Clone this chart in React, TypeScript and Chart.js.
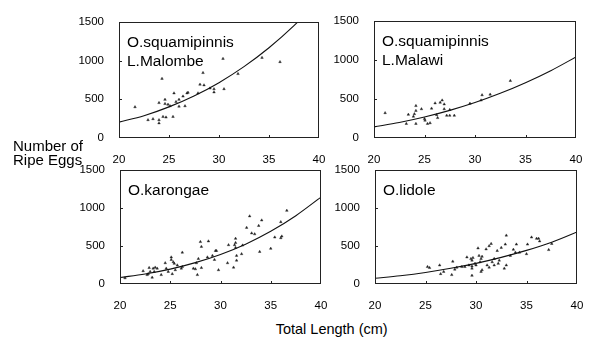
import React, { useEffect, useRef } from 'react';
import { Chart, registerables } from 'chart.js';
Chart.register(...registerables);

const FONT = '"Liberation Sans", Arial, Helvetica, sans-serif';

// tick labels
const xTickValues = [20, 25, 30, 35, 40];
const yTickValues = [0, 500, 1000, 1500];

// O.squamipinnis, L.Malombe
const malombeLength = [21.6, 24.3, 22.9, 23.4, 24.0, 24.0, 24.0, 24.4, 24.7, 24.6, 24.6, 24.9, 25.1, 25.4, 25.5, 25.7, 26.0, 26.0, 26.4, 26.6, 26.8, 26.9, 27.9, 28.1, 28.4, 28.5, 29.1, 29.5, 29.5, 30.4, 30.5, 31.9, 34.3, 36.1];
const malombeEggs = [400, 767, 233, 246, 233, 192, 454, 275, 267, 496, 442, 433, 413, 275, 579, 467, 496, 408, 538, 413, 579, 588, 579, 692, 842, 683, 642, 633, 592, 1025, 633, 829, 1038, 983];
const malombeCurveLength = [20, 22.5, 25, 27.5, 30, 32.5, 35, 37.5, 40];
const malombeCurveEggs = [205, 288, 402, 543, 715, 922, 1166, 1452, 1781];

// O.squamipinnis, L.Malawi
const malawiLength = [21.1, 23.2, 23.4, 23.9, 24.0, 24.15, 24.15, 24.15, 24.7, 25.0, 25.05, 25.3, 25.55, 25.7, 26.05, 26.2, 26.3, 26.55, 26.75, 26.95, 26.95, 27.2, 27.5, 27.95, 27.5, 29.5, 30.6, 30.7, 31.5, 33.5];
const malawiEggs = [321, 183, 300, 275, 308, 412, 350, 183, 371, 246, 225, 183, 192, 379, 446, 296, 258, 454, 483, 433, 371, 288, 288, 288, 362, 442, 483, 550, 558, 733];
const malawiCurveLength = [20, 22.5, 25, 27.5, 30, 32.5, 35, 37.5, 40];
const malawiCurveEggs = [142, 199, 269, 354, 454, 572, 708, 862, 1038];

// O.karongae
const karongaeLength = [20.5, 22.3, 22.7, 22.8, 22.9, 23.0, 23.2, 23.3, 23.5, 23.7, 23.4, 24.1, 24.5, 24.6, 24.8, 25.1, 25.1, 25.3, 25.4, 25.2, 25.5, 25.7, 26.2, 26.2, 26.1, 27.3, 27.5, 27.6, 27.7, 27.8, 28.0, 28.1, 28.1, 28.8, 28.7, 29.2, 29.5, 29.6, 29.4, 29.8, 30.7, 30.8, 31.3, 31.4, 31.5, 31.5, 31.5, 31.6, 31.6, 32.1, 32.2, 32.6, 32.9, 33.1, 33.4, 33.8, 33.9, 34.1, 35.0, 35.4, 36.0, 36.1, 36.0, 36.6];
const karongaeEggs = [78, 171, 120, 133, 213, 162, 86, 205, 218, 205, 162, 120, 276, 205, 162, 352, 319, 289, 268, 133, 184, 247, 415, 226, 205, 205, 196, 276, 120, 332, 554, 491, 213, 563, 352, 373, 437, 437, 319, 184, 276, 513, 218, 513, 542, 597, 478, 373, 310, 395, 509, 741, 892, 668, 656, 766, 424, 838, 466, 614, 605, 627, 816, 965];
const karongaeCurveLength = [20, 22.5, 25, 27.5, 30, 32.5, 35, 37.5, 40];
const karongaeCurveEggs = [85, 132, 196, 281, 389, 524, 693, 898, 1142];

// O.lidole
const lidoleLength = [25.2, 25.4, 26.4, 26.5, 26.8, 27.6, 27.7, 27.9, 28.1, 28.6, 28.9, 29.1, 29.3, 29.5, 29.6, 29.7, 29.6, 29.6, 29.6, 29.9, 30.0, 30.2, 30.3, 30.4, 30.5, 30.6, 30.5, 30.6, 31.0, 31.3, 31.3, 31.1, 31.5, 31.6, 31.8, 31.8, 32.1, 32.2, 32.3, 32.5, 32.8, 32.9, 33.0, 33.0, 33.4, 33.7, 33.9, 34.0, 34.3, 35.0, 35.1, 35.5, 36.0, 36.2, 36.3, 37.2, 37.5];
const lidoleEggs = [226, 213, 247, 133, 162, 120, 297, 192, 218, 226, 226, 352, 247, 332, 310, 344, 234, 205, 111, 268, 247, 471, 373, 289, 332, 361, 162, 184, 458, 500, 218, 247, 529, 289, 332, 247, 437, 268, 310, 478, 205, 521, 639, 247, 373, 453, 415, 521, 415, 395, 521, 614, 597, 597, 563, 449, 529];
const lidoleCurveLength = [20, 22.5, 25, 27.5, 30, 32.5, 35, 37.5, 40];
const lidoleCurveEggs = [75, 109, 152, 206, 271, 350, 442, 550, 685];

const YW = 40; // y-axis box width
const PT = 10; // top padding
const PR = 14; // right padding
const XH = 26; // x-axis box height

type PanelProps = {
  L: number; T: number; R: number; B: number;
  title: string[];
  xs: number[]; ys: number[];
  cx: number[]; cy: number[];
};

function Panel({ L, T, R, B, title, xs, ys, cx, cy }: PanelProps) {
  const ref = useRef<HTMLCanvasElement | null>(null);
  const width = YW + (R - L) + PR;
  const height = PT + (B - T) + XH;

  useEffect(() => {
    if (!ref.current) return;
    const framePlugin = {
      id: 'frame',
      afterDraw(chart: any) {
        const { ctx, chartArea } = chart;
        const { left, top, right, bottom } = chartArea;
        ctx.save();
        ctx.strokeStyle = '#222';
        ctx.lineWidth = 1;
        ctx.strokeRect(Math.round(left) + 0.5, Math.round(top) + 0.5, Math.round(right - left) - 1, Math.round(bottom - top) - 1);
        const xsc = chart.scales.x;
        const ysc = chart.scales.y;
        ctx.beginPath();
        xTickValues.slice(1, -1).forEach((v) => {
          const px = Math.round(xsc.getPixelForValue(v)) + 0.5;
          ctx.moveTo(px, bottom);
          ctx.lineTo(px, bottom - 3);
        });
        yTickValues.slice(1, -1).forEach((v) => {
          const py = Math.round(ysc.getPixelForValue(v)) + 0.5;
          ctx.moveTo(left, py);
          ctx.lineTo(left + 3, py);
        });
        ctx.stroke();
        ctx.fillStyle = '#000';
        ctx.font = `15.5px ${FONT}`;
        ctx.textBaseline = 'alphabetic';
        ctx.textAlign = 'left';
        title.forEach((line, i) => {
          ctx.fillText(line, left + 8, top + 25 + i * 19);
        });
        ctx.restore();
      },
    };

    const chart = new Chart(ref.current, {
      type: 'scatter',
      data: {
        datasets: [
          {
            type: 'line',
            data: cx.map((x, i) => ({ x, y: cy[i] })),
            borderColor: '#111',
            borderWidth: 1.1,
            pointRadius: 0,
            fill: false,
            cubicInterpolationMode: 'monotone',
          } as any,
          {
            type: 'scatter',
            data: xs.map((x, i) => ({ x, y: ys[i] })),
            pointStyle: 'triangle',
            pointRadius: 1.5,
            backgroundColor: '#222',
            borderColor: '#222',
            borderWidth: 0.4,
          } as any,
        ],
      },
      options: {
        responsive: false,
        animation: false,
        devicePixelRatio: 1,
        layout: { padding: { top: PT, right: PR, left: 0, bottom: 0 } },
        plugins: { legend: { display: false }, tooltip: { enabled: false } },
        scales: {
          x: {
            type: 'linear',
            min: 20,
            max: 40,
            afterBuildTicks: (s: any) => { s.ticks = xTickValues.map((v) => ({ value: v })); },
            afterFit: (s: any) => { s.height = XH; },
            grid: { display: false },
            border: { display: false },
            ticks: { padding: 7, color: '#000', maxRotation: 0, autoSkip: false, font: { family: FONT, size: 11.5 }, callback: (v: any) => String(v) },
          },
          y: {
            type: 'linear',
            min: 0,
            max: 1500,
            afterBuildTicks: (s: any) => { s.ticks = yTickValues.map((v) => ({ value: v })); },
            afterFit: (s: any) => { s.width = YW; },
            grid: { display: false },
            border: { display: false },
            ticks: { padding: 7, color: '#000', autoSkip: false, font: { family: FONT, size: 11.5 }, callback: (v: any) => String(v) },
          },
        },
      } as any,
      plugins: [framePlugin],
    });
    return () => chart.destroy();
  }, []);

  return (
    <canvas
      ref={ref}
      width={width}
      height={height}
      style={{ position: 'absolute', left: L - YW, top: T - PT, width, height }}
    />
  );
}

export default function App() {
  return (
    <div style={{ position: 'fixed', left: 0, top: 0, width: 600, height: 347, background: '#fff', overflow: 'hidden', fontFamily: FONT, color: '#000' }}>
      <Panel L={119} T={18} R={319} B={138} title={['O.squamipinnis', 'L.Malombe']} xs={malombeLength} ys={malombeEggs} cx={malombeCurveLength} cy={malombeCurveEggs} />
      <Panel L={374} T={17} R={576} B={138} title={['O.squamipinnis', 'L.Malawi']} xs={malawiLength} ys={malawiEggs} cx={malawiCurveLength} cy={malawiCurveEggs} />
      <Panel L={120} T={166} R={321} B={284} title={['O.karongae']} xs={karongaeLength} ys={karongaeEggs} cx={karongaeCurveLength} cy={karongaeCurveEggs} />
      <Panel L={375} T={166} R={577} B={284} title={['O.lidole']} xs={lidoleLength} ys={lidoleEggs} cx={lidoleCurveLength} cy={lidoleCurveEggs} />
      <div style={{ position: 'absolute', left: 13, top: 138.5, fontSize: 15, lineHeight: '14px', whiteSpace: 'pre' }}>
        {'Number of\nRipe Eggs'}
      </div>
      <div style={{ position: 'absolute', left: 231.7, top: 321.5, width: 200, textAlign: 'center', fontSize: 14.5, lineHeight: '15px', whiteSpace: 'nowrap' }}>
        Total Length (cm)
      </div>
    </div>
  );
}
